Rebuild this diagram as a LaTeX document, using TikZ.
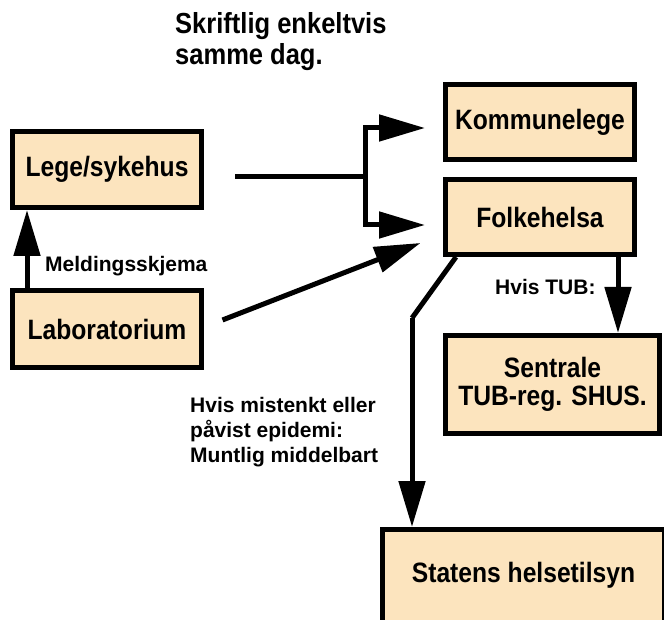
\documentclass[tikz,border=0pt]{standalone}
\usepackage{fontspec}
\newfontfamily\boxfont{Liberation Sans}[FakeStretch=0.88]
\newfontfamily\lblfont{Liberation Sans}
\usetikzlibrary{arrows.meta}
\definecolor{peach}{RGB}{252,228,190}
\begin{document}
\begin{tikzpicture}[x=1pt,y=-1pt,
  box/.style={draw,line width=5pt,fill=peach,inner sep=0pt,align=center,
    font=\boxfont\bfseries\fontsize{28}{28}\selectfont},
  lbl/.style={inner sep=0pt,align=left,font=\lblfont\bfseries\fontsize{21}{25}\selectfont},
  ln/.style={line width=5pt},
  arr/.style={line width=5pt,-{Triangle[length=46pt,width=26pt]}}]
\path[use as bounding box] (0,0) rectangle (664,620);
\clip (0,0) rectangle (664,620);
% boxes
\node[box,minimum width=189pt,minimum height=76pt] (lege) at (107,169.5) {Lege/sykehus};
\node[box,minimum width=189pt,minimum height=77pt] (lab) at (107,329) {Laboratorium};
\node[box,minimum width=189pt,minimum height=75pt] (kommune) at (540,122) {Kommunelege};
\node[box,minimum width=189pt,minimum height=75pt] (folke) at (540,217) {Folkehelsa};
\node[box,minimum width=214pt,minimum height=98pt] (sentrale) at (552.5,384.5) {Sentrale\\TUB-reg. SHUS.};
\node[box,minimum width=282pt,text height=52.5pt,text depth=55.5pt] (statens) at (523.5,583.5) {Statens helsetilsyn};
% texts
\node[lbl,anchor=north west,font=\boxfont\bfseries\fontsize{29}{31}\selectfont] (skriftlig) at (175,12) {Skriftlig enkeltvis\\samme dag.};
\node[lbl,anchor=base west] (melding) at (45,272) {Meldingsskjema};
\node[lbl,anchor=base west] (tub) at (495,295) {Hvis TUB:};
\node[lbl,anchor=north west] (muntlig) at (190,397) {Hvis mistenkt eller\\påvist epidemi:\\Muntlig middelbart};
% arrows
\coordinate (legeout) at (235,177);
\coordinate (fork) at (365,177);
\coordinate (bend) at (412,318);
\draw[arr] ([xshift=-80pt]lab.north) -- ([xshift=-80pt]lege.south);
\draw[ln] (legeout) -- (fork);
\draw[arr] (fork) |- ([xshift=-18pt,yshift=-6pt]kommune.west);
\draw[arr] (fork) |- ([xshift=-18pt,yshift=-8pt]folke.west);
\draw[arr] ([xshift=18.5pt,yshift=9pt]lab.east) -- ([xshift=-22.5pt,yshift=-26pt]folke.west);
\draw[arr] ([xshift=78pt]folke.south) -- ([xshift=78pt]folke.south |- sentrale.north);
\draw[ln] ([xshift=13pt]folke.south west) -- (bend);
\draw[arr] (bend) -- (bend |- statens.north);
\end{tikzpicture}
\end{document}
